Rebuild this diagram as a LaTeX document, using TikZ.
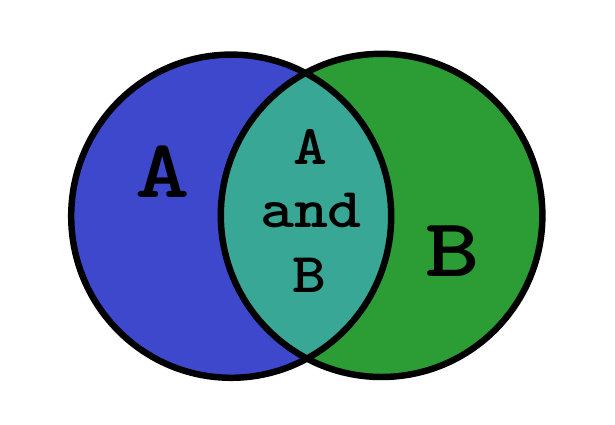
\documentclass[tikz,border=0pt]{standalone}
\usepackage{fontspec}
\definecolor{setA}{RGB}{62,72,204}
\definecolor{setB}{RGB}{44,157,53}
\definecolor{setAB}{RGB}{57,167,149}
\newcommand{\widemono}[1]{\scalebox{1.25}[1]{#1}}
\newcommand{\slimmono}[1]{\scalebox{1.15}[1]{#1}}
\tikzset{
  set label/.style={font=\ttfamily\bfseries\addfontfeature{FakeBold=1.2}\fontsize{59}{59}\selectfont,anchor=base,inner sep=0pt},
  both label/.style={font=\ttfamily\bfseries\addfontfeature{FakeBold=1.2}\fontsize{40}{40}\selectfont,anchor=base,inner sep=0pt}
}
\begin{document}
\begin{tikzpicture}[line width=4.6pt]
        \useasboundingbox (0,0) rectangle (15.375,10.625);
        \fill[setA] (5.78,5.22) ellipse [x radius=4, y radius=4.04];
        \fill[setB] (9.54,5.24) ellipse [x radius=4.02, y radius=4.04];
        \begin{scope}
            \clip (5.78,5.22) ellipse [x radius=4, y radius=4.04];
            \fill[setAB] (9.54,5.24) ellipse [x radius=4.02, y radius=4.04];
        \end{scope}
        \draw (5.78,5.22) ellipse [x radius=4, y radius=4.04];
        \draw (9.54,5.24) ellipse [x radius=4.02, y radius=4.04];
        \node[set label] (A) at (4.075,5.675) {\widemono{A}};
        \node[set label] (B) at (11.325,3.7) {\widemono{B}};
        \node[both label] (bothA) at (7.76,6.5) {\slimmono{A}};
        \node[both label] (bothand) at (7.775,4.925) {\slimmono{and}};
        \node[both label] (bothB) at (7.725,3.3) {\slimmono{B}};
    \end{tikzpicture}
\end{document}
